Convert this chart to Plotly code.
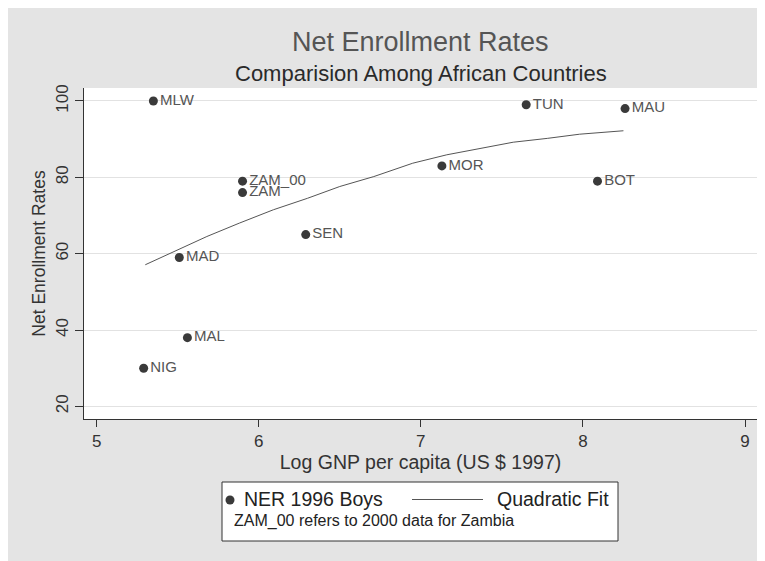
import plotly.graph_objects as go

# ---- data ----
countries = ["MLW", "MAD", "ZAM_00", "ZAM", "SEN", "MAL", "NIG", "MOR", "TUN", "MAU", "BOT"]
log_gnp = [5.35, 5.51, 5.90, 5.90, 6.29, 5.56, 5.29, 7.13, 7.65, 8.26, 8.09]
ner_boys = [100, 59, 79, 76, 65, 38, 30, 83, 99, 98, 79]

fit_x = [5.30, 5.47, 5.68, 5.88, 6.09, 6.30, 6.50, 6.71, 6.95, 7.16, 7.37, 7.57, 7.78, 7.98, 8.25]
fit_y = [57.1, 60.4, 64.5, 68.0, 71.5, 74.5, 77.6, 80.2, 83.7, 85.9, 87.6, 89.2, 90.2, 91.3, 92.2]

x_ticks = [5, 6, 7, 8, 9]
y_ticks = [20, 40, 60, 80, 100]

# ---- layout geometry (page pixels; the page body has an 8px margin) ----
OX, OY = 8, 8
W, H = 765 - OX, 561 - OY
L, R, T, B = 84, 757, 88, 419  # plot area in page pixels


def px(X):
    return (X - L) / (R - L)


def py(Y):
    return (B - Y) / (B - T)


FONT = "Liberation Sans, Arial, Helvetica, sans-serif"
MARK = "#3a3a3a"

fig = go.Figure()
fig.add_trace(go.Scatter(
    x=log_gnp, y=ner_boys, mode="markers+text", text=countries,
    textposition="middle right", cliponaxis=False,
    marker=dict(size=9, color=MARK),
    textfont=dict(size=15, color="#555555", family=FONT),
    name="NER 1996 Boys", showlegend=False))
fig.add_trace(go.Scatter(
    x=fit_x, y=fit_y, mode="lines",
    line=dict(color="#555555", width=1),
    name="Quadratic Fit", showlegend=False))

shapes = [
    dict(type="rect", xref="paper", yref="paper", x0=px(8), x1=px(757), y0=py(561), y1=py(7),
         fillcolor="#e4e4e4", line=dict(width=0), layer="below"),
    dict(type="rect", xref="paper", yref="paper", x0=0, x1=1, y0=0, y1=1,
         fillcolor="white", line=dict(width=0), layer="below"),
    # legend box
    dict(type="rect", xref="paper", yref="paper", x0=px(222), x1=px(618), y0=py(541), y1=py(482),
         fillcolor="white", line=dict(color="#333333", width=1), layer="above"),
    dict(type="circle", xref="paper", yref="paper", x0=px(225.5), x1=px(234.5), y0=py(504.5), y1=py(495.5),
         fillcolor=MARK, line=dict(width=0), layer="above"),
    dict(type="line", xref="paper", yref="paper", x0=px(412), x1=px(483), y0=py(499.5), y1=py(499.5),
         line=dict(color="#555555", width=1), layer="above"),
]

annotations = [
    dict(text="Net Enrollment Rates", xref="paper", yref="paper", x=0.5, y=py(42),
         xanchor="center", yanchor="middle", showarrow=False,
         font=dict(size=27, color="#555555", family=FONT)),
    dict(text="Comparision Among African Countries", xref="paper", yref="paper", x=0.5, y=py(73),
         xanchor="center", yanchor="middle", showarrow=False,
         font=dict(size=22, color="#2a2a2a", family=FONT)),
    dict(text="NER 1996 Boys", xref="paper", yref="paper", x=px(242), y=py(499),
         xanchor="left", yanchor="middle", showarrow=False,
         font=dict(size=19.5, color="#222222", family=FONT)),
    dict(text="Quadratic Fit", xref="paper", yref="paper", x=px(495), y=py(499),
         xanchor="left", yanchor="middle", showarrow=False,
         font=dict(size=19.5, color="#222222", family=FONT)),
    dict(text="ZAM_00 refers to 2000 data for Zambia", xref="paper", yref="paper", x=px(232), y=py(521),
         xanchor="left", yanchor="middle", showarrow=False,
         font=dict(size=16, color="#222222", family=FONT)),
]

fig.update_layout(
    width=W, height=H,
    margin=dict(l=L - OX, r=765 - R, t=T - OY, b=561 - B, pad=0),
    paper_bgcolor="white", plot_bgcolor="white",
    font=dict(family=FONT, color="#333333"),
    shapes=shapes, annotations=annotations,
    showlegend=False,
)
fig.update_xaxes(
    range=[4.922, 9.074], tickvals=x_ticks, ticktext=[str(v) for v in x_ticks],
    showgrid=False, zeroline=False, showline=True, linecolor="#333333", linewidth=1,
    ticks="outside", ticklen=7, tickcolor="#333333",
    tickfont=dict(size=17, color="#333333", family=FONT),
    title=dict(text="Log GNP per capita (US $ 1997)", standoff=4,
               font=dict(size=19.5, color="#333333", family=FONT)),
)
fig.update_yaxes(
    range=[16.7, 103.4], tickvals=y_ticks, ticktext=[str(v) for v in y_ticks],
    showgrid=True, gridcolor="#e2e2e2", gridwidth=1, zeroline=False,
    showline=True, linecolor="#333333", linewidth=1,
    ticks="outside", ticklen=8, tickcolor="#333333", tickangle=-90,
    tickfont=dict(size=17, color="#333333", family=FONT),
    title=dict(text="Net Enrollment Rates", standoff=3,
               font=dict(size=17.5, color="#333333", family=FONT)),
)

fig.write_html("out.html")
